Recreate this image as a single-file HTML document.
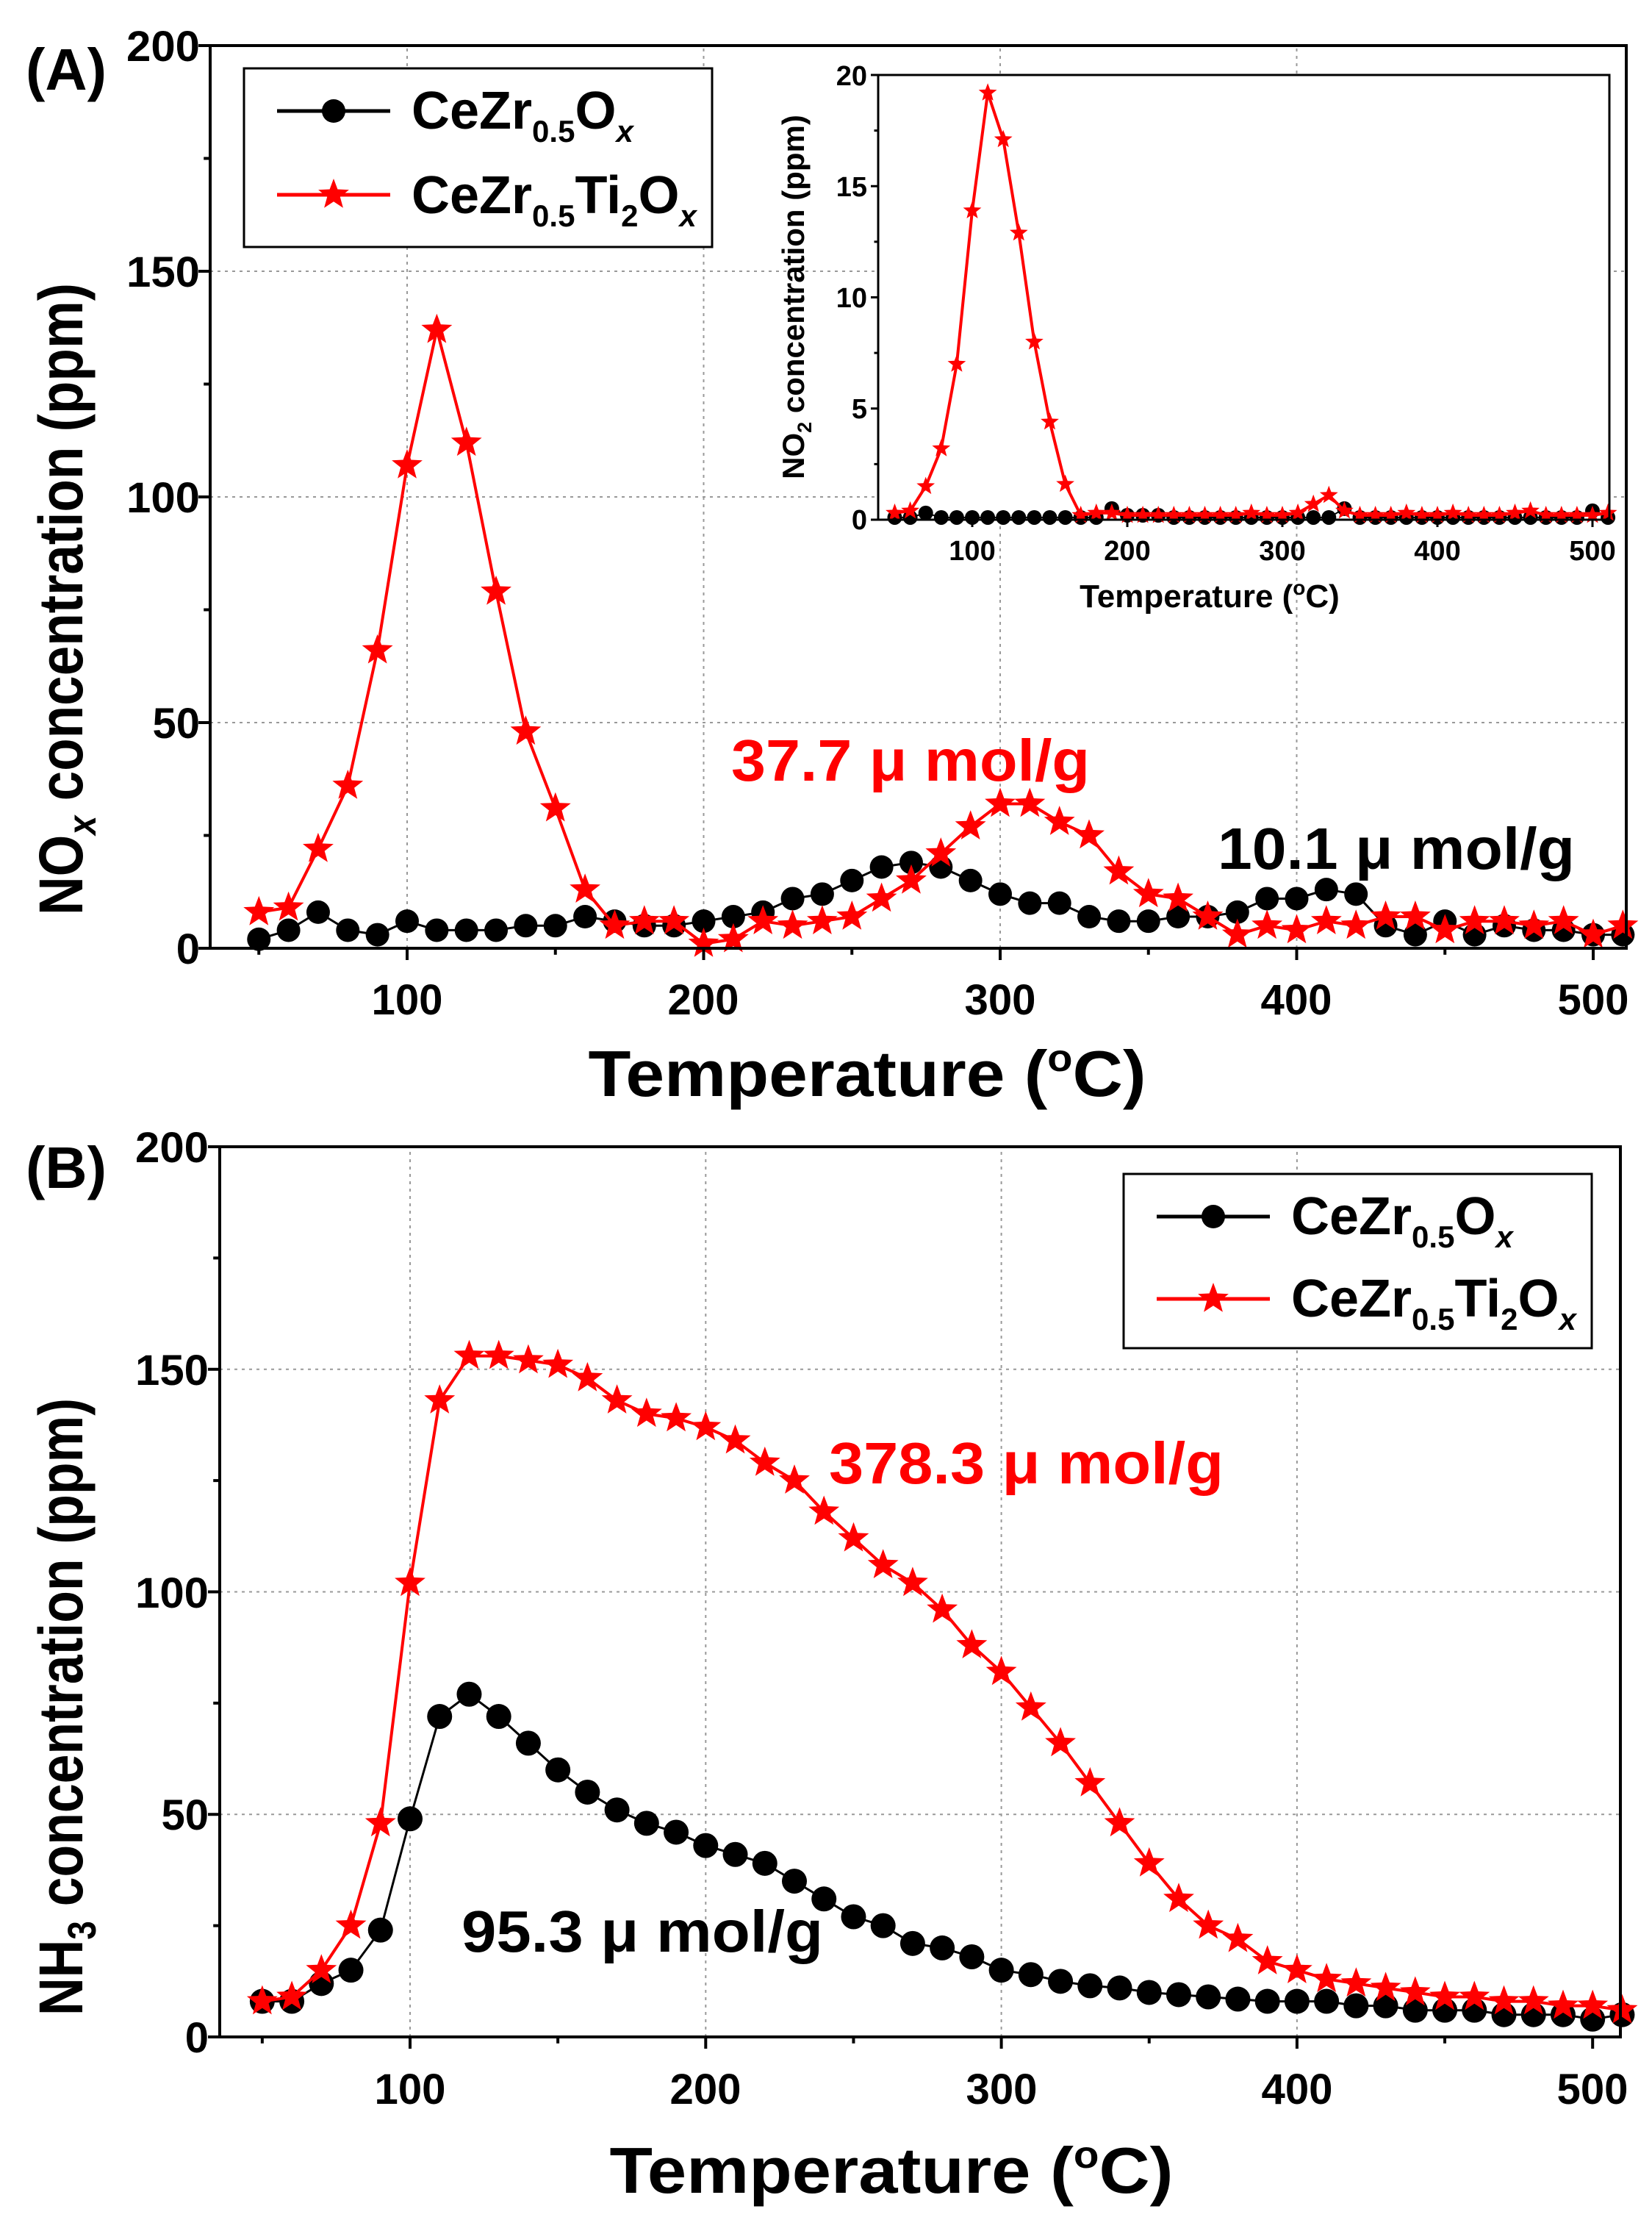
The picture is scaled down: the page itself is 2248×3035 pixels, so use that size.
<!DOCTYPE html>
<html><head><meta charset="utf-8"><style>
html,body{margin:0;padding:0;background:#fff}
svg text{font-family:"Liberation Sans",Arial,sans-serif;font-weight:bold}
</style></head><body>
<svg id="s" width="2248" height="3030" viewBox="0 0 2248 3030" xmlns="http://www.w3.org/2000/svg">
<rect width="2248" height="3030" fill="#fff"/>
<g id="grid"></g>
<g id="data"></g>
<g id="axes" fill="none" stroke="#000" stroke-width="4">
<rect x="286" y="62" width="1927" height="1228"/>
<rect x="299" y="1560" width="1906" height="1211"/>
<rect x="1195" y="102" width="995" height="605" stroke-width="3"/>
</g>
<g id="ticks"></g>
<text x="35" y="122" font-size="80" textLength="110" lengthAdjust="spacingAndGlyphs">(A)</text>
<text x="35" y="1616" font-size="80" textLength="110" lengthAdjust="spacingAndGlyphs">(B)</text>
<text x="1180" y="1491" font-size="88" text-anchor="middle" textLength="759" lengthAdjust="spacingAndGlyphs">Temperature  (<tspan font-size="52" dy="-34">o</tspan><tspan dy="34">C)</tspan></text>
<text transform="translate(112,815) rotate(-90)" font-size="84" text-anchor="middle" textLength="860" lengthAdjust="spacingAndGlyphs">NO<tspan font-size="54" dy="18" font-style="italic">x</tspan><tspan dy="-18"> concentration (ppm)</tspan></text>
<text x="1213" y="2983" font-size="88" text-anchor="middle" textLength="767" lengthAdjust="spacingAndGlyphs">Temperature  (<tspan font-size="52" dy="-34">o</tspan><tspan dy="34">C)</tspan></text>
<text transform="translate(112,2322) rotate(-90)" font-size="84" text-anchor="middle" textLength="840" lengthAdjust="spacingAndGlyphs">NH<tspan font-size="54" dy="18">3</tspan><tspan dy="-18"> concentration (ppm)</tspan></text>
<text x="995" y="1062" font-size="80" fill="#f00" textLength="488" lengthAdjust="spacingAndGlyphs">37.7 μ mol/g</text>
<text x="1657" y="1182" font-size="80" fill="#000" textLength="486" lengthAdjust="spacingAndGlyphs">10.1 μ mol/g</text>
<text x="1128" y="2018" font-size="80" fill="#f00" textLength="537" lengthAdjust="spacingAndGlyphs">378.3 μ mol/g</text>
<text x="628" y="2655" font-size="80" fill="#000" textLength="492" lengthAdjust="spacingAndGlyphs">95.3 μ mol/g</text>
<text x="1646" y="826" font-size="44" text-anchor="middle">Temperature  (<tspan font-size="28" dy="-17">o</tspan><tspan dy="17">C)</tspan></text>
<text transform="translate(1094,404) rotate(-90)" font-size="42" text-anchor="middle">NO<tspan font-size="27" dy="10">2</tspan><tspan dy="-10"> concentration (ppm)</tspan></text>
<rect x="332" y="93" width="637" height="243" fill="#fff" stroke="#000" stroke-width="3"/>
<rect x="1529" y="1597" width="637" height="237" fill="#fff" stroke="#000" stroke-width="3"/>
<g id="leg"></g>
<text x="560" y="175" font-size="72">CeZr<tspan font-size="42" dy="18">0.5</tspan><tspan dy="-18">O</tspan><tspan font-size="42" dy="18" font-style="italic">x</tspan></text>
<text x="560" y="290" font-size="72">CeZr<tspan font-size="42" dy="18">0.5</tspan><tspan dy="-18">Ti</tspan><tspan font-size="42" dy="18">2</tspan><tspan dy="-18">O</tspan><tspan font-size="42" dy="18" font-style="italic">x</tspan></text>
<text x="1757" y="1679" font-size="72">CeZr<tspan font-size="42" dy="18">0.5</tspan><tspan dy="-18">O</tspan><tspan font-size="42" dy="18" font-style="italic">x</tspan></text>
<text x="1757" y="1791" font-size="72">CeZr<tspan font-size="42" dy="18">0.5</tspan><tspan dy="-18">Ti</tspan><tspan font-size="42" dy="18">2</tspan><tspan dy="-18">O</tspan><tspan font-size="42" dy="18" font-style="italic">x</tspan></text>
<g font-size="58" text-anchor="end">
<text x="272" y="1311">0</text><text x="272" y="1004">50</text><text x="272" y="697" textLength="100" lengthAdjust="spacingAndGlyphs">100</text><text x="272" y="390" textLength="100" lengthAdjust="spacingAndGlyphs">150</text><text x="272" y="83" textLength="100" lengthAdjust="spacingAndGlyphs">200</text>
<text x="284" y="2792">0</text><text x="284" y="2489">50</text><text x="284" y="2187" textLength="100" lengthAdjust="spacingAndGlyphs">100</text><text x="284" y="1884" textLength="100" lengthAdjust="spacingAndGlyphs">150</text><text x="284" y="1581" textLength="100" lengthAdjust="spacingAndGlyphs">200</text>
</g>
<g font-size="58" text-anchor="middle">
<text x="554" y="1380" textLength="97" lengthAdjust="spacingAndGlyphs">100</text><text x="957" y="1380" textLength="97" lengthAdjust="spacingAndGlyphs">200</text><text x="1361" y="1380" textLength="97" lengthAdjust="spacingAndGlyphs">300</text><text x="1764" y="1380" textLength="97" lengthAdjust="spacingAndGlyphs">400</text><text x="2168" y="1380" textLength="97" lengthAdjust="spacingAndGlyphs">500</text>
<text x="558" y="2862" textLength="97" lengthAdjust="spacingAndGlyphs">100</text><text x="960" y="2862" textLength="97" lengthAdjust="spacingAndGlyphs">200</text><text x="1363" y="2862" textLength="97" lengthAdjust="spacingAndGlyphs">300</text><text x="1765" y="2862" textLength="97" lengthAdjust="spacingAndGlyphs">400</text><text x="2167" y="2862" textLength="97" lengthAdjust="spacingAndGlyphs">500</text>
</g>
<g font-size="38" text-anchor="end">
<text x="1180" y="720">0</text><text x="1180" y="569">5</text><text x="1180" y="418">10</text><text x="1180" y="267">15</text><text x="1180" y="116">20</text>
</g>
<g font-size="38" text-anchor="middle">
<text x="1323" y="762">100</text><text x="1534" y="762">200</text><text x="1745" y="762">300</text><text x="1956" y="762">400</text><text x="2167" y="762">500</text>
</g>
</svg>
<script>
var NS="http://www.w3.org/2000/svg";
function mk(parent,tag,attrs){var e=document.createElementNS(NS,tag);for(var k in attrs)e.setAttribute(k,attrs[k]);document.getElementById(parent).appendChild(e);return e;}
function star(cx,cy,R){var r=R*0.42,p=[];for(var i=0;i<10;i++){var a=-Math.PI/2+i*Math.PI/5,rr=i%2?r:R;p.push((cx+rr*Math.cos(a)).toFixed(1)+","+(cy+rr*Math.sin(a)).toFixed(1));}return p.join(" ");}
function axis(P){return {X:function(x){return P.x100+(x-100)*P.k/100;},Y:function(y){return P.yb-(y/P.ymax)*(P.yb-P.yt);}};}
var xs=[];for(var t=50;t<=510;t+=10)xs.push(t);
var A=axis({x100:554,k:403.5,yb:1290,yt:62,ymax:200});
var B=axis({x100:558,k:402.3,yb:2771,yt:1560,ymax:200});
var I=axis({x100:1323,k:211,yb:707,yt:102,ymax:20});
var aR=[8,9,22,36,66,107,137,112,79,48,31,13,5,6,6,1,2,6,5,6,7,11,15,21,27,32,32,28,25,17,12,11,7,3,5,4,6,5,7,7,4,6,6,5,6,3,5];
var aB=[2,4,8,4,3,6,4,4,4,5,5,7,6,5,5,6,7,8,11,12,15,18,19,18,15,12,10,10,7,6,6,7,7,8,11,11,13,12,5,3,6,3,5,4,4,3,3];
var bR=[8,9,15,25,48,102,143,153,153,152,151,148,143,140,139,137,134,129,125,118,112,106,102,96,88,82,74,66,57,48,39,31,25,22,17,15,13,12,11,10,9,9,8,8,7,7,6];
var bB=[8,8,12,15,24,49,72,77,72,66,60,55,51,48,46,43,41,39,35,31,27,25,21,20,18,15,14,12.5,11.5,11,10,9.5,9,8.5,8,8,8,7,7,6,6,6,5,5,5,4,5];
var iR=[0.3,0.4,1.5,3.2,7,13.9,19.2,17.1,12.9,8,4.4,1.6,0.2,0.3,0.3,0.2,0.2,0.2,0.2,0.2,0.2,0.2,0.2,0.3,0.2,0.2,0.3,0.7,1.1,0.4,0.2,0.2,0.2,0.3,0.2,0.2,0.3,0.2,0.2,0.2,0.3,0.4,0.2,0.2,0.2,0.2,0.3];
var iB=[0.1,0.1,0.3,0.1,0.1,0.1,0.1,0.1,0.1,0.1,0.1,0.1,0.1,0.1,0.5,0.2,0.2,0.2,0.1,0.1,0.1,0.1,0.1,0.1,0.1,0.1,0.1,0.1,0.1,0.5,0.1,0.1,0.1,0.1,0.1,0.1,0.1,0.1,0.1,0.1,0.1,0.1,0.1,0.1,0.1,0.4,0.1];
function grid(ax,yvals,xmin,xmax,ymaxv){
 [100,200,300,400].forEach(function(x){mk("grid","line",{x1:ax.X(x),x2:ax.X(x),y1:ax.Y(0),y2:ax.Y(ymaxv),stroke:"#999","stroke-width":2,"stroke-dasharray":"4 6"});});
 yvals.forEach(function(y){mk("grid","line",{x1:xmin,x2:xmax,y1:ax.Y(y),y2:ax.Y(y),stroke:"#999","stroke-width":2,"stroke-dasharray":"4 6"});});}
grid(A,[50,100,150],286,2213,200);grid(B,[50,100,150],299,2205,200);
function ticks(ax,ymaxv,ystep,xl,xr,len,sw){
 for(var x=50;x<=500;x+=50){var L=(x%100==0)?len:len*0.55;mk("ticks","line",{x1:ax.X(x),x2:ax.X(x),y1:ax.Y(0),y2:ax.Y(0)+L,stroke:"#000","stroke-width":sw});}
 for(var y=0;y<=ymaxv;y+=ystep/2){var L=(Math.abs(y/ystep-Math.round(y/ystep))<1e-6)?len:len*0.55;mk("ticks","line",{x1:xl,x2:xl-L,y1:ax.Y(y),y2:ax.Y(y),stroke:"#000","stroke-width":sw});}}
ticks(A,200,50,286,2213,16,4);ticks(B,200,50,299,2205,16,4);ticks(I,20,5,1195,2190,10,3);
function series(ax,ys,color,type,r,lw,line){
 var d=xs.map(function(x,i){return (i?"L":"M")+ax.X(x).toFixed(1)+","+ax.Y(ys[i]).toFixed(1);}).join("");
 if(line)mk("data","path",{d:d,fill:"none",stroke:color,"stroke-width":lw,"stroke-linejoin":"round"});
 xs.forEach(function(x,i){var cx=ax.X(x),cy=ax.Y(ys[i]);
  if(type=="c")mk("data","circle",{cx:cx,cy:cy,r:r,fill:color});
  else mk("data","polygon",{points:star(cx,cy,r),fill:color});});}
mk("data","rect",{x:1195,y:102,width:995,height:605,fill:"#fff"});
series(A,aB,"#000","c",16,3,true);series(A,aR,"#f00","s",22,4,true);
series(B,bB,"#000","c",17,3,true);series(B,bR,"#f00","s",22,4,true);
series(I,iB,"#000","c",10,2,true);series(I,iR,"#f00","s",13,4,true);
function leg(x1,x2,y,color,type){mk("leg","line",{x1:x1,x2:x2,y1:y,y2:y,stroke:color,"stroke-width":5});var cx=(x1+x2)/2;
 if(type=="c")mk("leg","circle",{cx:cx,cy:y,r:16,fill:color});else mk("leg","polygon",{points:star(cx,y,22),fill:color});}
leg(377,531,151,"#000","c");leg(377,531,265,"#f00","s");
leg(1574,1728,1655,"#000","c");leg(1574,1728,1767,"#f00","s");
</script>
</body></html>
